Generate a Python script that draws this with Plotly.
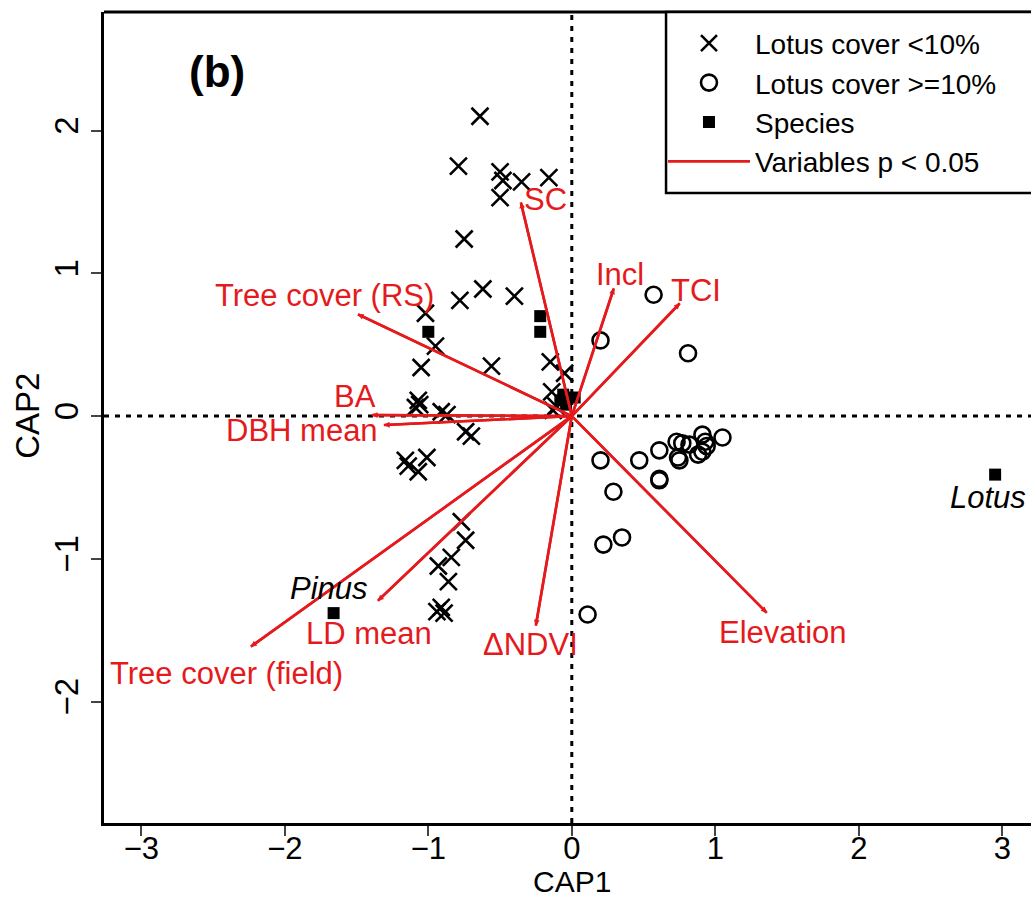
import plotly.graph_objects as go

# ---- data ----
low_x = [-0.64, -0.79, -0.50, -0.48, -0.35, -0.16, -0.50, -0.75, -0.62, -0.40, -0.78, -1.02, -0.95,
         -1.05, -0.56, -0.15, -1.07, -1.06, -1.09, -0.91, -0.87, -0.74, -0.70, -1.16, -1.14, -1.01,
         -1.07, -0.14, -0.11, -0.77, -0.74, -0.84, -0.93, -0.86, -0.94, -0.91, -0.89, -0.05, -0.13]
low_y = [2.10, 1.75, 1.71, 1.65, 1.64, 1.67, 1.53, 1.24, 0.89, 0.84, 0.81, 0.72, 0.49,
         0.34, 0.35, 0.38, 0.11, 0.08, 0.06, 0.03, 0.01, -0.11, -0.14, -0.31, -0.35, -0.29,
         -0.39, 0.17, 0.07, -0.74, -0.87, -0.99, -1.05, -1.16, -1.37, -1.34, -1.38, 0.30, 0.04]

high_x = [0.57, 0.20, 0.81, 0.20, 0.29, 0.47, 0.61, 0.61, 0.61, 0.73, 0.77, 0.75, 0.74, 0.91,
          0.93, 0.91, 0.88, 0.94, 1.05, 0.35, 0.22, 0.11, 0.82]
high_y = [0.85, 0.53, 0.44, -0.31, -0.53, -0.31, -0.24, -0.44, -0.45, -0.18, -0.19, -0.31, -0.29,
          -0.13, -0.18, -0.25, -0.27, -0.21, -0.15, -0.85, -0.90, -1.39, -0.20]

species_x = [-1.00, -0.22, -0.22, -0.06, 0.02, -0.04, -0.08, -1.66, 2.95]
species_y = [0.59, 0.70, 0.59, 0.15, 0.13, 0.08, 0.11, -1.38, -0.41]
species_names = ["", "", "", "", "", "", "", "Pinus", "Lotus"]

var_names = ["SC", "Incl", "TCI", "Tree cover (RS)", "BA", "DBH mean",
             "Tree cover (field)", "LD mean", "ΔNDVI", "Elevation"]
var_x = [-0.355, 0.293, 0.753, -1.491, -1.394, -1.310, -2.237, -1.352, -0.251, 1.359]
var_y = [1.497, 0.895, 0.790, 0.713, 0.007, -0.063, -1.615, -1.294, -1.469, -1.378]

x_ticks = [-3, -2, -1, 0, 1, 2, 3]
y_ticks = [-2, -1, 0, 1, 2]

# ---- style / layout helpers ----
RED = "#e41a1c"
FONT = "Liberation Sans, Arial, sans-serif"
# label offsets (data units) from arrow tips
label_offset = {
    "SC": (0.17, 0.02), "Incl": (0.04, 0.10), "TCI": (0.11, 0.09),
    "Tree cover (RS)": (-0.23, 0.13), "BA": (-0.12, 0.13), "DBH mean": (-0.57, -0.04),
    "Tree cover (field)": (-0.17, -0.19), "LD mean": (-0.06, -0.23),
    "ΔNDVI": (-0.04, -0.13), "Elevation": (0.11, -0.14),
}
species_offset = {"Pinus": (-0.03, 0.17), "Lotus": (-0.05, -0.16)}

fig = go.Figure()

# reference dotted lines
fig.add_shape(type="line", x0=0, x1=0, y0=0, y1=1, xref="x", yref="paper",
              line=dict(color="black", width=3, dash="5px,6px"), layer="below")
fig.add_shape(type="line", x0=0, x1=1, y0=0, y1=0, xref="paper", yref="y",
              line=dict(color="black", width=3, dash="5px,6px"), layer="below")

fig.add_trace(go.Scatter(
    x=low_x, y=low_y, mode="markers", name="Lotus cover <10%",
    marker=dict(symbol="x-thin-open", size=17, color="black", line=dict(width=2.6, color="black")),
))
fig.add_trace(go.Scatter(
    x=high_x, y=high_y, mode="markers", name="Lotus cover >=10%",
    marker=dict(symbol="circle-open", size=16, color="black", line=dict(width=2.6, color="black")),
))
fig.add_trace(go.Scatter(
    x=species_x, y=species_y, mode="markers", name="Species",
    marker=dict(symbol="square", size=12, color="black"),
))

# arrows lines
lx, ly = [], []
for vx, vy in zip(var_x, var_y):
    lx += [0, vx, None]
    ly += [0, vy, None]
fig.add_trace(go.Scatter(
    x=lx, y=ly, mode="lines", name="Variables p < 0.05",
    line=dict(color=RED, width=2.6),
))

annotations = []
for name, vx, vy in zip(var_names, var_x, var_y):
    annotations.append(dict(
        x=vx, y=vy, ax=0, ay=0, xref="x", yref="y", axref="x", ayref="y",
        text="", showarrow=True, arrowhead=2, arrowsize=0.45, arrowwidth=2.6,
        arrowcolor=RED,
    ))
    dx, dy = label_offset[name]
    annotations.append(dict(
        x=vx + dx, y=vy + dy, xref="x", yref="y", text=name, showarrow=False,
        font=dict(family=FONT, size=31, color=RED),
    ))
for name, sx, sy in zip(species_names, species_x, species_y):
    if name:
        dx, dy = species_offset[name]
        annotations.append(dict(
            x=sx + dx, y=sy + dy, xref="x", yref="y", text=f"<i>{name}</i>",
            showarrow=False, font=dict(family=FONT, size=31, color="black"),
        ))
annotations.append(dict(
    x=-2.47, y=2.41, xref="x", yref="y", text="<b>(b)</b>", showarrow=False,
    font=dict(family=FONT, size=44, color="black"),
))
# axis titles
annotations.append(dict(
    x=0, y=-0.0727, xref="x", yref="paper", text="CAP1", showarrow=False,
    xanchor="center", yanchor="middle", font=dict(family=FONT, size=30, color="black"),
))
annotations.append(dict(
    x=-0.082, y=0.502, xref="paper", yref="paper", text="CAP2", showarrow=False,
    textangle=-90, xanchor="center", yanchor="middle",
    font=dict(family=FONT, size=33, color="black"),
))

# top frame line
fig.add_shape(type="line", x0=0, x1=1, y0=1, y1=1, xref="paper", yref="paper",
              line=dict(color="black", width=3))
# legend box extending past right edge
fig.add_shape(type="rect", x0=0.6063, x1=1.05, y0=0.7768, y1=1.0, xref="paper", yref="paper",
              line=dict(color="black", width=2.5), fillcolor="white", layer="above")

fig.update_layout(
    width=1031, height=897,
    margin=dict(l=104, r=0, t=12, b=74),
    paper_bgcolor="white", plot_bgcolor="white",
    font=dict(family=FONT, size=28, color="black"),
    annotations=annotations,
    showlegend=True,
    legend=dict(
        x=0.603, y=0.992, xanchor="left", yanchor="top",
        borderwidth=0, bgcolor="rgba(0,0,0,0)",
        font=dict(family=FONT, size=28, color="black"),
        itemwidth=82, tracegroupgap=0,
    ),
    xaxis=dict(
        range=[-3.26, 3.20], tickvals=x_ticks, showgrid=False, zeroline=False,
        showline=True, linecolor="black", linewidth=3, ticks="outside", ticklen=10,
        tickwidth=2, tickfont=dict(size=31), ticklabelstandoff=-14,
    ),
    yaxis=dict(
        range=[-2.85, 2.83], tickvals=y_ticks, showgrid=False, zeroline=False,
        showline=True, linecolor="black", linewidth=3, ticks="outside", ticklen=10,
        tickwidth=2, tickangle=-90, tickfont=dict(size=33),
    ),
)

fig.write_html("out.html")
